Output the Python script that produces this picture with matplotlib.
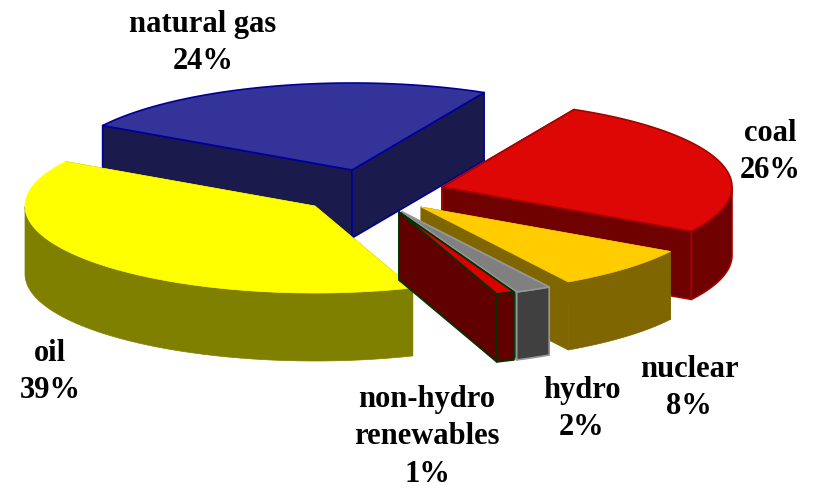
import matplotlib
matplotlib.use("Agg")
import matplotlib.pyplot as plt
import numpy as np

plt.rcParams["font.family"] = ["Liberation Serif", "DejaVu Serif"]

# drawing order differs from the data order, see DRAW_ORDER
NAMES = ["coal", "nuclear", "hydro", "non-hydro\nrenewables", "oil", "natural gas"]
VALUES = [26, 8, 2, 1, 39, 24]

TOP_COLORS = ["#dd0806", "#ffcc00", "#808080", "#dd0000", "#ffff00", "#333399"]
SIDE_COLORS = ["#6f0200", "#806600", "#404040", "#600000", "#808000", "#1a1a4d"]
EDGE_COLORS = ["#a00400", None, "#969696", "#003300", None, "#000099"]
APEX_X = [442, 421, 402, 399, 315, 352]
APEX_Y = [187, 207, 212, 212, 206, 170]
LABEL_X = [770, 689, 582, 427, 50, 203]
LABEL_Y = [152, 388, 409, 437, 372, 43]

RX = 290
RY = 87
DEPTH = 68
START_DEG = 62.9
DRAW_ORDER = [5, 4, 0, 1, 2, 3]


def wedge_ring(theta):
    return RX * np.cos(theta), -RY * np.sin(theta)


def draw_slice(ax, i, t0, t1):
    ax0, ay0 = APEX_X[i], APEX_Y[i]
    side = SIDE_COLORS[i]
    edge = EDGE_COLORS[i] or side
    lw = 1.2 if EDGE_COLORS[i] else 0.5

    theta = np.radians(np.linspace(t0, t1, 200))
    dx, dy = wedge_ring(theta)
    xs = ax0 + dx
    ys = ay0 + dy

    # the two cut faces, then the rim, then the top on top of them
    for k in [0, -1]:
        ax.fill([ax0, xs[k], xs[k], ax0],
                [ay0, ys[k], ys[k] + DEPTH, ay0 + DEPTH],
                facecolor=side, edgecolor=edge, linewidth=lw, joinstyle="round")

    front = np.sin(theta) <= 0
    if front.any():
        fx, fy = xs[front], ys[front]
        ax.fill(np.r_[fx, fx[::-1]], np.r_[fy, fy[::-1] + DEPTH],
                facecolor=side, edgecolor=edge, linewidth=lw, joinstyle="round")

    ax.fill(np.r_[ax0, xs], np.r_[ay0, ys],
            facecolor=TOP_COLORS[i], edgecolor=EDGE_COLORS[i] or TOP_COLORS[i],
            linewidth=lw, joinstyle="round")


def main():
    fig = plt.figure(figsize=(8.17, 4.88), dpi=100, facecolor="white")
    ax = fig.add_axes([0, 0, 1, 1])
    ax.set_xlim(0, 817)
    ax.set_ylim(488, 0)
    ax.axis("off")

    sweep = np.array(VALUES) / sum(VALUES) * 360.0
    ends = START_DEG - np.cumsum(sweep)
    starts = ends + sweep

    for i in DRAW_ORDER:
        draw_slice(ax, i, starts[i], ends[i])

    for i, name in enumerate(NAMES):
        ax.text(LABEL_X[i], LABEL_Y[i], f"{name}\n{VALUES[i]}%",
                ha="center", va="center", ma="center",
                fontsize=22, fontweight="bold", linespacing=1.37, color="black")

    fig.savefig("out.png", dpi=100)
    plt.close(fig)


if __name__ == "__main__":
    main()
